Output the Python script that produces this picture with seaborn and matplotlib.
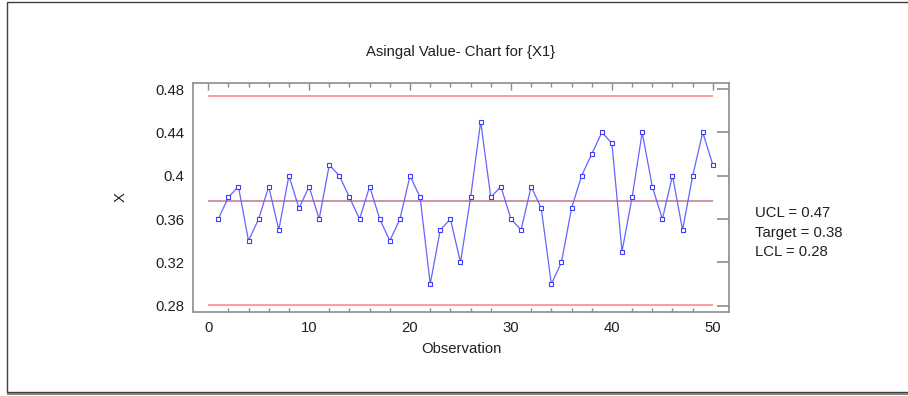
import numpy as np
import pandas as pd
import matplotlib
matplotlib.use("Agg")
import matplotlib.pyplot as plt
from matplotlib.patches import Rectangle
from matplotlib.ticker import MultipleLocator
import seaborn as sns

observation = list(range(1, 51))
x_values = [
    0.36, 0.38, 0.39, 0.34, 0.36, 0.39, 0.35, 0.40, 0.37, 0.39,
    0.36, 0.41, 0.40, 0.38, 0.36, 0.39, 0.36, 0.34, 0.36, 0.40,
    0.38, 0.30, 0.35, 0.36, 0.32, 0.38, 0.45, 0.38, 0.39, 0.36,
    0.35, 0.39, 0.37, 0.30, 0.32, 0.37, 0.40, 0.42, 0.44, 0.43,
    0.33, 0.38, 0.44, 0.39, 0.36, 0.40, 0.35, 0.40, 0.44, 0.41,
]
ucl = 0.4735
target = 0.377
lcl = 0.2805
limit_labels = ["UCL = 0.47", "Target = 0.38", "LCL = 0.28"]
y_ticks = [0.28, 0.32, 0.36, 0.4, 0.44, 0.48]
y_tick_labels = ["0.28", "0.32", "0.36", "0.4", "0.44", "0.48"]
x_ticks = [0, 10, 20, 30, 40, 50]

sns.set_style("white")
plt.rcParams["font.family"] = ["Liberation Sans", "DejaVu Sans"]
FS = 10.7

df = pd.DataFrame({"Observation": observation, "X": x_values})

fig = plt.figure(figsize=(9.08, 3.96), dpi=100)
W, H = 908, 396

# outer frame with a shadow at the bottom
fig.patches.append(Rectangle((7 / W, 1 - 395 / H), 1.2, 3 / H, transform=fig.transFigure,
                             facecolor="#8a8a8a", edgecolor="none", zorder=0))
fig.patches.append(Rectangle((7 / W, 1 - 392 / H), 1.2, (392 - 2) / H, transform=fig.transFigure,
                             facecolor="white", edgecolor="#404040", linewidth=1.0, zorder=1))

ax = fig.add_axes([193 / W, 1 - 312 / H, (729 - 193) / W, (312 - 83) / H], zorder=2)

sns.lineplot(data=df, x="Observation", y="X", ax=ax, color="#6464ff", linewidth=0.9,
             marker="s", markersize=3.5, markerfacecolor="white",
             markeredgecolor="#3c3cff", markeredgewidth=0.8)

ax.hlines([ucl, lcl], 0, 50, colors="#ff8a8a", linewidth=1.2, zorder=1)
ax.hlines(target, 0, 50, colors="#c8809a", linewidth=1.2, zorder=1)

ax.set_xlim(-1.5, 51.6)
ax.set_ylim(0.2742, 0.4856)
ax.set_xticks(x_ticks)
ax.xaxis.set_minor_locator(MultipleLocator(2))
ax.set_yticks(y_ticks)
ax.set_yticklabels(y_tick_labels)

for side in ["left", "right", "top", "bottom"]:
    ax.spines[side].set_visible(True)
    ax.spines[side].set_color("#8c8c8c")
    ax.spines[side].set_linewidth(1.2)

ax.tick_params(axis="both", which="major", direction="in", color="#8c8c8c",
               labelsize=FS, labelcolor="#202020", top=True, right=True)
ax.tick_params(axis="y", which="major", length=9, width=1.2, pad=6.5)
ax.tick_params(axis="x", which="major", length=5, width=1.0, pad=6.5)
ax.tick_params(axis="x", which="minor", direction="in", length=3, width=1.0,
               color="#8c8c8c", top=True, bottom=True)

ax.set_xlabel("Observation", fontsize=FS, color="#202020", labelpad=5)
ax.set_ylabel("X", fontsize=FS, color="#202020", labelpad=20)
ax.set_title("Asingal Value- Chart for {X1}", fontsize=FS, color="#202020", pad=19.5)

for i, lab in enumerate(limit_labels):
    fig.text(755 / W, 1 - (213 + i * 19.5) / H, lab, fontsize=FS, color="#202020",
             ha="left", va="center")

fig.savefig("out.png", dpi=100)
